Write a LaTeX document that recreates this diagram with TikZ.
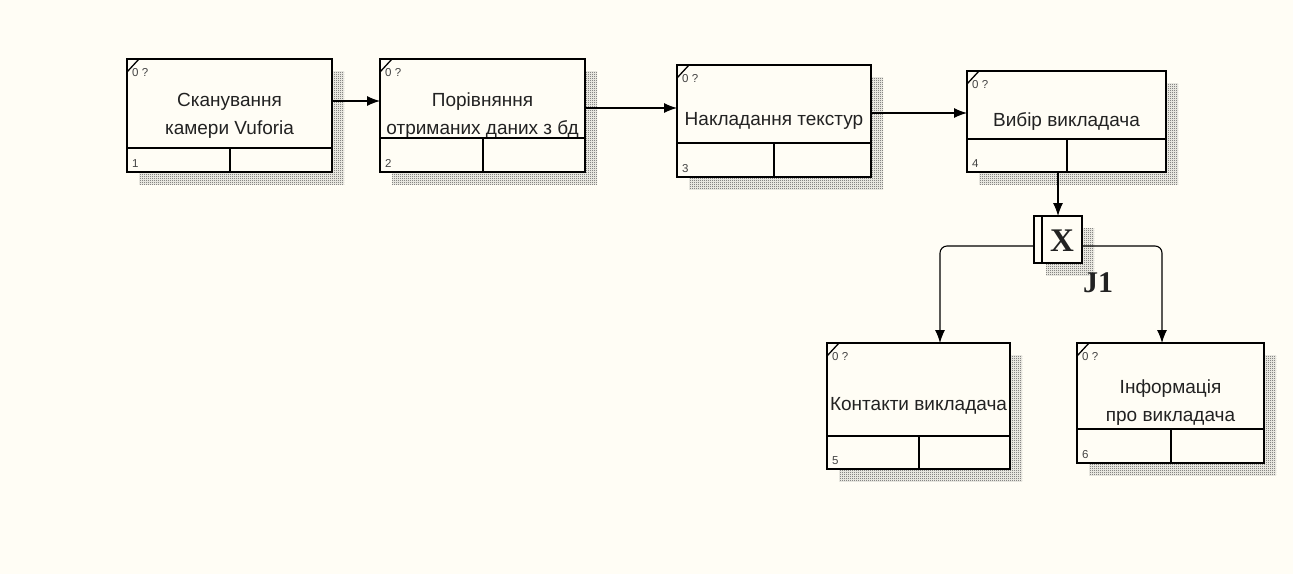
\documentclass[tikz,border=0pt]{standalone}
\usepackage{fontspec}
\setmainfont{Liberation Sans}
\newfontfamily\jfont{Liberation Serif}
\usetikzlibrary{arrows.meta,calc,patterns,backgrounds}

\definecolor{paper}{RGB}{255,253,245}
\definecolor{ink}{RGB}{34,34,34}
\definecolor{shade}{RGB}{70,70,70}

% fine checkerboard used for drop shadows
\pgfdeclarepatternformonly{checker}{\pgfqpoint{0pt}{0pt}}{\pgfqpoint{2pt}{2pt}}{\pgfqpoint{2pt}{2pt}}{%
  \pgfpathrectangle{\pgfqpoint{0pt}{0pt}}{\pgfqpoint{1pt}{1pt}}%
  \pgfpathrectangle{\pgfqpoint{1pt}{1pt}}{\pgfqpoint{1pt}{1pt}}%
  \pgfusepath{fill}}

\tikzset{
  actbox/.style={draw=black, line width=2pt, fill=paper, inner sep=0pt, outer sep=0pt,
    align=center, text=ink, font=\fontsize{19}{28}\selectfont},
  rule/.style={line width=2pt},
  flow/.style={line width=1.1pt, -{Latex[length=13pt,width=10pt]}},
  tag/.style={font=\fontsize{11.5}{13}\selectfont, text=ink!85, inner sep=0pt, anchor=base west},
  shadow/.style={pattern=checker, pattern color=shade},
  joinlabel/.style={font=\jfont\bfseries\fontsize{30}{30}\selectfont, text=ink, inner sep=0pt},
}

% activity box: name, centre x, centre y, width, height, lower strip height, number, title
\newcommand\idefbox[8]{%
  \node[actbox, minimum width=#4pt, minimum height=#5pt] (#1) at (#2,#3) {#8};
  \begin{scope}[on background layer]
    \fill[shadow] ($(#1.north west)+(12,12)$) rectangle ($(#1.south east)+(12,12)$);
  \end{scope}
  \draw[rule] ($(#1.south west)+(0,-#6)$) -- ($(#1.south east)+(0,-#6)$);
  \draw[rule] (#1.south) -- ++(0,-#6);
  \draw[line width=1.3pt] ($(#1.north west)+(0,13)$) -- ($(#1.north west)+(12,0)$);
  \node[tag] (#1-c) at ($(#1.north west)+(5,17)$) {0 ?};
  \node[tag] (#1-n) at ($(#1.south west)+(5,-5)$) {#7};
}

\begin{document}
\begin{tikzpicture}[x=1pt,y=-1pt]
  \useasboundingbox (0,0) rectangle (1293,574);
  \begin{scope}[on background layer]
    \fill[paper] (0,0) rectangle (1293,574);
  \end{scope}

  % activities
  \idefbox{b1}{229.5}{115.5}{205}{113}{24}{1}{Сканування\\камери Vuforia}
  \idefbox{b2}{482.5}{115.5}{205}{113}{34}{2}{Порівняння\\отриманих даних з бд}
  \idefbox{b3}{774}{121}{194}{112}{34}{3}{Накладання текстур}
  \idefbox{b4}{1066.5}{121.5}{199}{101}{33}{4}{Вибір викладача}
  \idefbox{b5}{918.5}{406}{183}{126}{33}{5}{Контакти викладача}
  \idefbox{b6}{1170.5}{403}{187}{120}{34}{6}{Інформація\\про викладача}

  % exclusive junction
  \node[draw=black, line width=2pt, fill=paper, minimum width=48pt, minimum height=47pt,
        inner sep=0pt, outer sep=0pt] (J) at (1058,239.5) {};
  \begin{scope}[on background layer]
    \fill[shadow] ($(J.north west)+(12,12)$) rectangle ($(J.south east)+(12,12)$);
  \end{scope}
  \draw[rule] ($(J.north west)+(8,0)$) -- ($(J.south west)+(8,0)$);
  \node[joinlabel, font=\jfont\bfseries\fontsize{33}{33}\selectfont] (Jx) at (1062,241) {X};
  \node[joinlabel] (Jname) at (1098,283) {J1};

  % flows
  \draw[flow] (b1.east |- 0,101) -- (b2.west |- 0,101);
  \draw[flow] (b2.east |- 0,108) -- (b3.west |- 0,108);
  \draw[flow] (b3.east |- 0,113) -- (b4.west |- 0,113);
  \draw[flow] (b4.south -| J.north) -- (J.north);
  \draw[flow, rounded corners=7pt] (J.west |- 0,246) -| ($(b5.north)+(21.5,0)$);
  \draw[flow, rounded corners=7pt] (J.east |- 0,246) -| ($(b6.north)+(-8.5,0)$);
\end{tikzpicture}
\end{document}
